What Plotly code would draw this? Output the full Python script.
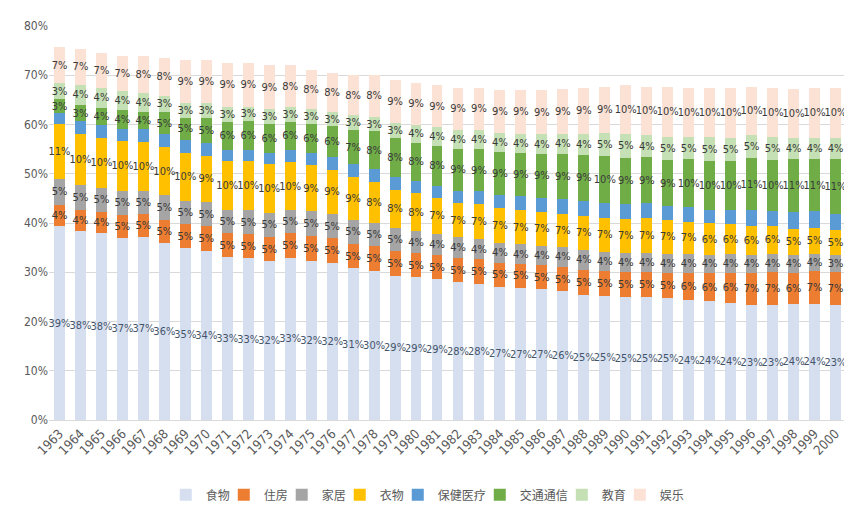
import plotly.graph_objects as go

years = [str(y) for y in range(1963, 2001)]

food = [39.3, 38.3, 38.0, 37.0, 37.2, 36.0, 34.9, 34.3, 33.0, 32.8, 32.2, 32.9, 32.3, 31.8, 30.8, 30.2, 29.3, 29.0,
        28.6, 28.0, 27.7, 27.0, 26.8, 26.6, 26.1, 25.4, 25.2, 25.0, 25.0, 24.8, 24.3, 24.1, 23.8, 23.3, 23.4, 23.6, 23.6, 23.3]
housing = [4.4, 4.3, 4.2, 4.6, 4.6, 4.7, 4.8, 5.0, 4.9, 5.0, 5.0, 5.0, 5.1, 5.1, 5.0, 5.1, 5.0, 4.9,
           4.9, 4.9, 4.9, 4.9, 4.9, 4.8, 5.0, 5.1, 5.0, 5.0, 5.0, 5.0, 5.6, 5.7, 6.1, 6.6, 6.6, 6.3, 6.6, 6.8]
household = [5.2, 5.2, 5.0, 5.0, 4.8, 5.0, 4.8, 5.0, 4.8, 4.8, 4.9, 4.8, 5.0, 4.9, 4.8, 4.8, 4.6, 4.4,
             4.3, 4.2, 4.2, 4.1, 4.0, 4.0, 4.0, 4.1, 4.0, 4.0, 4.0, 4.0, 3.8, 3.8, 3.8, 3.7, 3.7, 3.7, 3.6, 3.4]
clothing = [11.2, 10.3, 10.0, 10.0, 9.8, 9.7, 9.8, 9.4, 9.8, 9.9, 9.8, 9.6, 9.3, 9.0, 8.7, 8.3, 7.9, 7.7,
            7.3, 7.0, 7.0, 7.0, 6.9, 6.8, 6.8, 6.9, 6.9, 6.9, 7.0, 6.9, 6.6, 6.3, 6.0, 5.8, 5.7, 5.2, 5.1, 5.1]
health = [2.2, 2.6, 2.6, 2.5, 2.6, 2.6, 2.5, 2.5, 2.4, 2.4, 2.4, 2.5, 2.5, 2.6, 2.6, 2.6, 2.6, 2.5,
          2.5, 2.4, 2.6, 2.7, 2.8, 2.9, 3.0, 3.0, 3.0, 3.0, 3.0, 2.7, 3.0, 2.7, 3.0, 3.2, 3.0, 3.5, 3.5, 3.3]
transport = [2.8, 3.2, 3.6, 3.8, 3.6, 4.6, 4.6, 5.2, 5.7, 5.8, 5.9, 5.8, 6.0, 6.2, 7.0, 7.6, 7.8, 7.8,
             8.0, 8.6, 8.7, 8.7, 8.8, 8.9, 9.1, 9.3, 9.6, 9.4, 9.4, 9.3, 9.6, 9.9, 9.8, 10.6, 10.3, 10.6, 10.6, 11.1]
education = [3.3, 4.2, 4.0, 3.9, 3.8, 3.2, 3.0, 3.0, 3.0, 2.9, 2.9, 3.0, 3.0, 3.0, 3.0, 3.0, 3.2, 3.6,
             3.8, 3.8, 3.8, 3.9, 3.9, 4.0, 4.1, 4.3, 4.6, 4.7, 4.4, 4.7, 4.6, 4.9, 4.8, 4.6, 4.7, 4.3, 4.2, 4.3]
entertainment = [7.3, 7.3, 7.1, 7.2, 7.6, 7.7, 8.6, 8.6, 8.9, 8.9, 8.9, 8.4, 7.8, 7.9, 8.1, 8.4, 8.6, 8.6,
                 8.6, 8.6, 8.6, 8.7, 8.9, 9.0, 9.2, 9.4, 9.4, 10.0, 9.9, 10.3, 10.0, 10.1, 10.2, 9.9, 10.1, 10.1, 10.3, 10.2]

yticks = [0, 10, 20, 30, 40, 50, 60, 70, 80]
ytick_labels = ["0%", "10%", "20%", "30%", "40%", "50%", "60%", "70%", "80%"]

# name, values, bar colour, label colour, show label, legend id, legend x (paper)
series = [
    ("食物", food, "#D6DFF0", "#44546A", True, "legend", 0.1465),
    ("住房", housing, "#ED7D31", "#3A3A3A", True, "legend2", 0.2193),
    ("家居", household, "#A5A5A5", "#3A3A3A", True, "legend3", 0.2920),
    ("衣物", clothing, "#FFC000", "#3A3A3A", True, "legend4", 0.3648),
    ("保健医疗", health, "#5B9BD5", "#3A3A3A", False, "legend5", 0.4376),
    ("交通通信", transport, "#70AD47", "#3A3A3A", True, "legend6", 0.5405),
    ("教育", education, "#C5E0B4", "#3A3A3A", True, "legend7", 0.6434),
    ("娱乐", entertainment, "#FBE2D5", "#3A3A3A", True, "legend8", 0.7162),
]

label_font = "DejaVu Sans Condensed, Liberation Sans Narrow, sans-serif"

fig = go.Figure()
legend_layouts = {}
for name, vals, color, tcolor, show, lg, lx in series:
    fig.add_trace(go.Bar(
        x=years, y=vals, name=name, legend=lg,
        marker=dict(color=color, line=dict(width=0)),
        texttemplate="%{y:.0f}%" if show else "",
        textposition="inside" if show else "none",
        insidetextanchor="middle",
        constraintext="none",
        textangle=0,
        cliponaxis=False,
        textfont=dict(family=label_font, size=11, color=tcolor),
        hoverinfo="x+y+name",
    ))
    legend_layouts[lg] = dict(
        orientation="h", x=lx, xanchor="left", y=-0.19, yanchor="middle",
        font=dict(family="Noto Sans CJK SC", size=12, color="#595959"),
        itemwidth=30, bgcolor="rgba(0,0,0,0)",
    )

fig.update_layout(
    barmode="stack",
    bargap=0.48,
    width=852, height=513,
    margin=dict(l=41, r=14, t=18, b=90),
    paper_bgcolor="white",
    plot_bgcolor="white",
    font=dict(family=label_font, color="#595959", size=12),
    yaxis=dict(range=[0, 80], tickvals=yticks, ticktext=ytick_labels,
               gridcolor="#D9D9D9", gridwidth=1, zeroline=False,
               showline=False, tickfont=dict(size=12, color="#595959")),
    xaxis=dict(tickangle=-45, showline=True, linecolor="#D9D9D9", linewidth=1,
               tickfont=dict(size=13, color="#595959"), ticks=""),
    showlegend=True,
    **legend_layouts,
)

fig.write_html("out.html")
